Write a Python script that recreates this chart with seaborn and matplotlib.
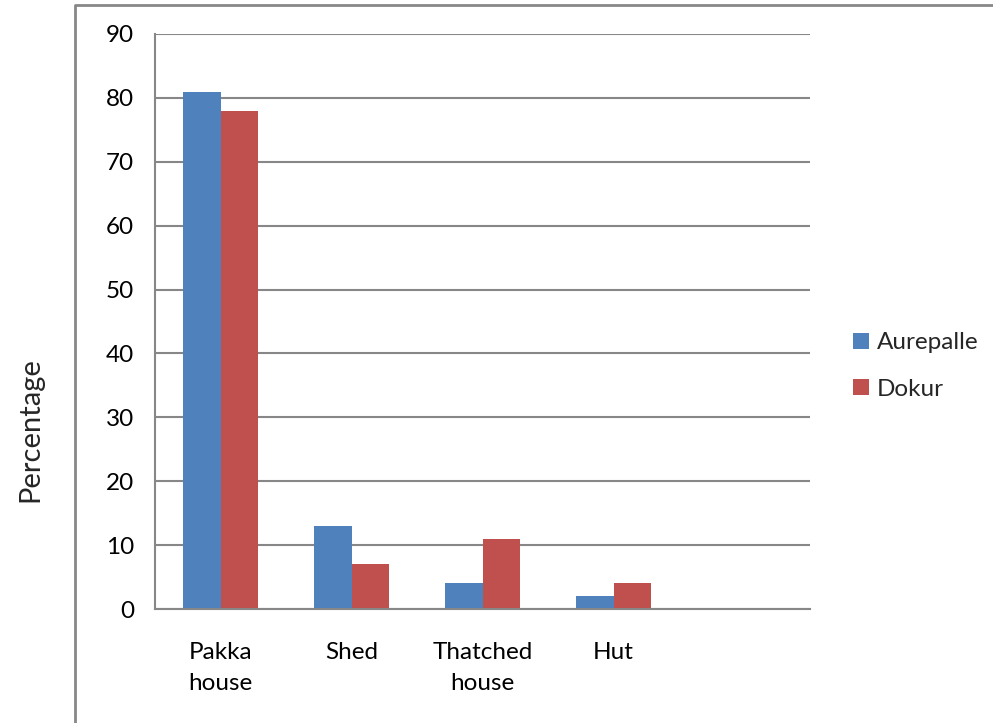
import pandas as pd
import numpy as np
import matplotlib
matplotlib.use("Agg")
import matplotlib.pyplot as plt
from matplotlib.lines import Line2D
import seaborn as sns

# data
categories = ["Pakka\nhouse", "Shed", "Thatched\nhouse", "Hut"]
aurepalle = [81, 13, 4, 2]
dokur = [78, 7, 11, 4]
villages = ["Aurepalle", "Dokur"]
colors = ["#4F81BD", "#C0504D"]

df = pd.DataFrame({
    "category": categories * 2,
    "village": [villages[0]] * 4 + [villages[1]] * 4,
    "value": aurepalle + dokur,
})

sns.set_theme(style="white")
plt.rcParams["font.family"] = ["Lato", "DejaVu Sans"]

fig = plt.figure(figsize=(9.93, 7.23), dpi=100)
ax = fig.add_axes([155 / 993, 1 - 609 / 723, 655 / 993, 575 / 723])

sns.barplot(data=df, x="category", y="value", hue="village", order=categories,
            palette=colors, width=0.565, linewidth=0, saturation=1, ax=ax)

gray = "#878787"
ax.set_xlim(-0.5, 4.5)
ax.set_ylim(0, 90)
ax.set_yticks(np.arange(0, 91, 10))
ax.yaxis.grid(True, color=gray, linewidth=1.5)
ax.set_axisbelow(True)
for s in ["top", "right"]:
    ax.spines[s].set_visible(False)
for s in ["left", "bottom"]:
    ax.spines[s].set_color(gray)
    ax.spines[s].set_linewidth(1.5)

ax.set_xticks(range(len(categories)))
ax.set_xticklabels(categories, linespacing=1.55)
ax.set_xticks(np.arange(-0.5, 4.6, 1), minor=True)
ax.tick_params(axis="x", which="major", length=0, pad=24, labelsize=17.5, colors="black")
ax.tick_params(axis="x", which="minor", length=8, width=1.5, color=gray, direction="out")
ax.tick_params(axis="y", length=8, width=1.5, color=gray, direction="out", pad=7,
               labelsize=17.5, labelcolor="black")
ax.set_xlabel("")
ax.set_ylabel("")

fig.text(30 / 993, 1 - 430 / 723, "Percentage", rotation=90, ha="center", va="center",
         fontsize=21)

handles, labels = ax.get_legend_handles_labels()
ax.legend(handles, labels, loc="center left", bbox_to_anchor=(831 / 993, 1 - 366 / 723),
          bbox_transform=fig.transFigure, frameon=False, fontsize=17.5,
          handlelength=0.65, handleheight=0.65, handletextpad=0.35, labelspacing=1.05)

# outer chart frame (only top and left edges are visible in the crop)
fig.add_artist(Line2D([75 / 993, 75 / 993, 1.0], [0.0, 1 - 5 / 723, 1 - 5 / 723],
                      transform=fig.transFigure, color=gray, linewidth=2))

fig.savefig("out.png", dpi=100)
